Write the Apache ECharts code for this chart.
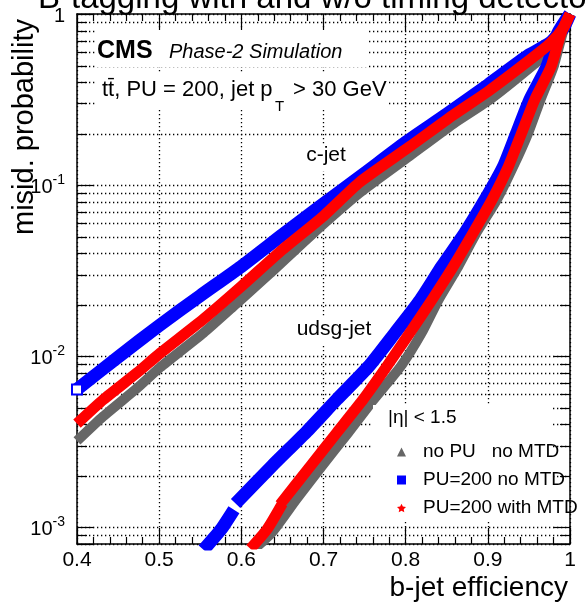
<!DOCTYPE html>
<html>
<head>
<meta charset="utf-8">
<script src="https://cdn.jsdelivr.net/npm/echarts@6/dist/echarts.min.js"></script>
<style>
html, body { margin: 0; padding: 0; background: #fff; }
#chart { width: 586px; height: 606px; }
</style>
</head>
<body>
<div id="chart"></div>
<script>
// b-tagging ROC curves: misidentification probability vs. b-jet efficiency

// c-jet, no PU / no MTD
const cjetNoPuEff   = [0.400, 0.432, 0.473, 0.501, 0.554, 0.594, 0.635, 0.684, 0.744, 0.805, 0.858, 0.900, 0.951, 0.976, 0.992, 1.000];
const cjetNoPuMisid = [0.0032, 0.00446, 0.0065, 0.0086, 0.0137, 0.0203, 0.0305, 0.0505, 0.0900, 0.148, 0.228, 0.310, 0.485, 0.620, 0.800, 1.000];

// c-jet, PU=200 no MTD
const cjetPuEff   = [0.400, 0.450, 0.500, 0.550, 0.600, 0.650, 0.700, 0.750, 0.800, 0.850, 0.900, 0.950, 0.976, 0.992, 1.000];
const cjetPuMisid = [0.0064, 0.0099, 0.0151, 0.0226, 0.0335, 0.0513, 0.0780, 0.1175, 0.178, 0.260, 0.385, 0.576, 0.680, 0.830, 1.000];

// c-jet, PU=200 with MTD
const cjetMtdEff   = [0.400, 0.432, 0.473, 0.501, 0.554, 0.600, 0.650, 0.700, 0.744, 0.805, 0.858, 0.900, 0.951, 0.976, 0.992, 1.000];
const cjetMtdMisid = [0.00404, 0.00558, 0.0080, 0.0104, 0.0165, 0.0256, 0.0420, 0.0660, 0.104, 0.168, 0.257, 0.352, 0.539, 0.674, 0.830, 1.000];

// udsg-jet, no PU / no MTD
const udsgNoPuEff   = [0.616, 0.637, 0.667, 0.698, 0.730, 0.761, 0.794, 0.8195, 0.840, 0.864, 0.886, 0.911, 0.931, 0.949, 0.964, 0.980, 0.991, 1.000];
const udsgNoPuMisid = [0.00075, 0.00093, 0.00146, 0.00228, 0.00357, 0.00558, 0.00873, 0.0137, 0.0214, 0.0335, 0.0525, 0.082, 0.1285, 0.201, 0.315, 0.493, 0.770, 1.000];

// udsg-jet, PU=200 no MTD (two pieces)
const udsgPuLowEff   = [0.554, 0.575, 0.591];
const udsgPuLowMisid = [0.00074, 0.00097, 0.00127];
const udsgPuEff   = [0.593, 0.637, 0.680, 0.716, 0.755, 0.787, 0.818, 0.844, 0.872, 0.8965, 0.919, 0.935, 0.951, 0.972, 0.985, 1.000];
const udsgPuMisid = [0.00138, 0.00228, 0.00365, 0.00558, 0.00873, 0.0137, 0.0214, 0.0335, 0.0525, 0.082, 0.1285, 0.201, 0.315, 0.493, 0.770, 1.000];

// udsg-jet, PU=200 with MTD (two pieces)
const udsgMtdLowEff   = [0.611, 0.631, 0.650];
const udsgMtdLowMisid = [0.00075, 0.00097, 0.00138];
const udsgMtdEff   = [0.647, 0.684, 0.716, 0.748, 0.777, 0.805, 0.832, 0.858, 0.882, 0.905, 0.925, 0.941, 0.957, 0.977, 0.989, 1.000];
const udsgMtdMisid = [0.00136, 0.00228, 0.00357, 0.00558, 0.00873, 0.0137, 0.0214, 0.0335, 0.0525, 0.082, 0.1285, 0.201, 0.315, 0.493, 0.770, 1.000];

const X_MIN = 0.4, X_MAX = 1.0;
const Y_MIN = 0.0008, Y_MAX = 1;

const NAME_NOPU = 'no PU   no MTD';
const NAME_PU = 'PU=200 no MTD';
const NAME_MTD = 'PU=200 with MTD';

const GRAY = '#666666', BLUE = '#0000ff', RED = '#ff0000';
const FONT = '"Liberation Sans", Arial, Helvetica, sans-serif';

// minor decade positions (2..9 x 10^n) inside the axis range
const logMinorTicks = [];
for (let d = -4; d <= -1; d++) {
  for (let k = 2; k <= 9; k++) {
    const v = +(k * Math.pow(10, d)).toPrecision(3);
    if (v > Y_MIN && v < Y_MAX) logMinorTicks.push(v);
  }
}

function pairs(xs, ys) { return xs.map((x, i) => [x, ys[i]]); }

function curve(name, xs, ys, color, width, z, startMarker) {
  const data = pairs(xs, ys);
  if (startMarker) {
    data[0] = { value: data[0], symbol: startMarker, symbolSize: 10 };
  }
  return {
    type: 'line', name: name, data: data,
    showSymbol: !!startMarker, symbol: 'none', smooth: 0.2, clip: true,
    z: z, silent: true,
    itemStyle: { color: color, borderColor: color, borderWidth: 1.5 },
    lineStyle: { color: color, width: width, cap: 'butt', join: 'round' }
  };
}

const starIcon = 'path://M0,-10 L2.9,-4 L9.5,-3.1 L4.7,1.5 L5.9,8.1 L0,5 L-5.9,8.1 L-4.7,1.5 L-9.5,-3.1 L-2.9,-4 Z';

const GRID_DASH = [1.3, 2.7];
const dotted = { color: '#000', width: 1.3, type: GRID_DASH };

function xAxisCfg(pos, labels) {
  return {
    type: 'value', position: pos, min: X_MIN, max: X_MAX, interval: 0.1,
    axisLine: { show: true, onZero: false, lineStyle: { color: '#000', width: 1.5 } },
    axisTick: { show: true, inside: true, length: 16, lineStyle: { color: '#000', width: 1.2 } },
    minorTick: { show: true, splitNumber: 5, length: 7, lineStyle: { color: '#000', width: 1.2 } },
    axisLabel: labels ? { show: true, fontSize: 21, color: '#000', fontFamily: FONT, margin: 6 } : { show: false },
    splitLine: { show: labels, lineStyle: dotted },
    minorSplitLine: { show: false }
  };
}

function yAxisCfg(pos, labels) {
  return {
    type: 'log', logBase: 10, position: pos, min: Y_MIN, max: Y_MAX,
    axisLine: { show: true, onZero: false, lineStyle: { color: '#000', width: 1.5 } },
    axisTick: { show: true, inside: true, length: 17, lineStyle: { color: '#000', width: 1.2 } },
    axisLabel: labels ? {
      show: true, margin: 12, color: '#000', fontFamily: FONT,
      formatter: function (v) {
        const e = Math.log10(v);
        const r = Math.round(e);
        if (Math.abs(e - r) > 1e-6) return '';
        if (r === 0) return '{b|1}';
        return '{b|10}{s|' + r + '}';
      },
      rich: {
        b: { fontSize: 20, lineHeight: 24, verticalAlign: 'bottom', fontFamily: FONT, color: '#000' },
        s: { fontSize: 14, lineHeight: 14, verticalAlign: 'top', fontFamily: FONT, color: '#000' }
      }
    } : { show: false },
    splitLine: { show: labels, lineStyle: dotted }
  };
}

const chart = echarts.init(document.getElementById('chart'), null, { renderer: 'canvas' });

chart.setOption({
  animation: false,
  backgroundColor: '#fff',
  grid: { left: 77, right: 16, top: 14, bottom: 62, containLabel: false },
  xAxis: [xAxisCfg('bottom', true), xAxisCfg('top', false)],
  yAxis: [yAxisCfg('left', true), yAxisCfg('right', false)],
  legend: {
    orient: 'vertical', left: 392, top: 433, itemWidth: 9, itemHeight: 9, itemGap: 0,
    z: 10, selectedMode: false,
    textStyle: { fontSize: 19, lineHeight: 28, color: '#000', fontFamily: FONT, padding: [0, 0, 0, 12] },
    data: [
      { name: NAME_NOPU, icon: 'triangle', itemStyle: { color: GRAY, borderWidth: 0 } },
      { name: NAME_PU, icon: 'rect', itemStyle: { color: BLUE, borderWidth: 0 } },
      { name: NAME_MTD, icon: starIcon, itemStyle: { color: RED, borderWidth: 0 } }
    ]
  },
  graphic: [
    // boxes behind the text labels
    { type: 'rect', z: 5, shape: { x: 95, y: 30, width: 272, height: 37 }, style: { fill: '#fff' } },
    { type: 'rect', z: 5, shape: { x: 95, y: 72, width: 292, height: 38 }, style: { fill: '#fff' } },
    { type: 'rect', z: 5, shape: { x: 300, y: 144, width: 52, height: 27 }, style: { fill: '#fff' } },
    { type: 'rect', z: 5, shape: { x: 291, y: 318, width: 86, height: 26 }, style: { fill: '#fff' } },
    { type: 'rect', z: 5, shape: { x: 373, y: 405, width: 179, height: 117 }, style: { fill: '#fff' } },

    { type: 'text', z: 6, x: 38, y: -1, style: { text: 'B-tagging with and w/o timing detector', font: '33px ' + FONT, fill: '#000', align: 'left', verticalAlign: 'middle' } },
    { type: 'text', z: 6, x: 25, y: 127, rotation: Math.PI / 2, style: { text: 'misid. probability', font: '29px ' + FONT, fill: '#000', align: 'center', verticalAlign: 'middle' } },
    { type: 'text', z: 6, x: 568, y: 588, style: { text: 'b-jet efficiency', font: '28px ' + FONT, fill: '#000', align: 'right', verticalAlign: 'middle' } },
    { type: 'text', z: 6, x: 97, y: 51, style: { text: 'CMS', font: 'bold 25px ' + FONT, fill: '#000', align: 'left', verticalAlign: 'middle' } },
    { type: 'text', z: 6, x: 169, y: 52, style: { text: 'Phase-2 Simulation', font: 'italic 20px ' + FONT, fill: '#000', align: 'left', verticalAlign: 'middle' } },
    { type: 'text', z: 6, x: 102, y: 90, style: { text: 'tt\u0304, PU = 200, jet p', font: '22px ' + FONT, fill: '#000', align: 'left', verticalAlign: 'middle' } },
    { type: 'text', z: 6, x: 275, y: 107, style: { text: 'T', font: '15px ' + FONT, fill: '#000', align: 'left', verticalAlign: 'middle' } },
    { type: 'text', z: 6, x: 293, y: 90, style: { text: '> 30 GeV', font: '22px ' + FONT, fill: '#000', align: 'left', verticalAlign: 'middle' } },
    { type: 'text', z: 6, x: 326, y: 155, style: { text: 'c-jet', font: '21px ' + FONT, fill: '#000', align: 'center', verticalAlign: 'middle' } },
    { type: 'text', z: 6, x: 334, y: 329, style: { text: 'udsg-jet', font: '21px ' + FONT, fill: '#000', align: 'center', verticalAlign: 'middle' } },
    { type: 'text', z: 6, x: 388, y: 418, style: { text: '|\u03b7| < 1.5', font: '19px ' + FONT, fill: '#000', align: 'left', verticalAlign: 'middle' } }
  ],
  series: [
    {
      type: 'custom', name: 'logMinorGrid', z: 1, silent: true,
      xAxisIndex: 0, yAxisIndex: 0,
      data: logMinorTicks.map(v => [X_MIN, v]),
      encode: { x: 0, y: 1 },
      renderItem: function (params, api) {
        const v = api.value(1);
        const a = api.coord([X_MIN, v]);
        const b = api.coord([X_MAX, v]);
        const y = Math.round(a[1]) + 0.5;
        return {
          type: 'group',
          children: [
            { type: 'line', shape: { x1: a[0], y1: y, x2: b[0], y2: y }, style: { stroke: '#000', lineWidth: 1.3, lineDash: GRID_DASH } },
            { type: 'line', shape: { x1: a[0], y1: y, x2: a[0] + 10, y2: y }, style: { stroke: '#000', lineWidth: 1.2 } },
            { type: 'line', shape: { x1: b[0] - 10, y1: y, x2: b[0], y2: y }, style: { stroke: '#000', lineWidth: 1.2 } }
          ]
        };
      }
    },
    curve(NAME_NOPU, cjetNoPuEff, cjetNoPuMisid, GRAY, 10, 2),
    curve(NAME_NOPU, udsgNoPuEff, udsgNoPuMisid, GRAY, 10, 2),
    curve(NAME_PU, cjetPuEff, cjetPuMisid, BLUE, 13, 3, 'emptyRect'),
    curve(NAME_PU, udsgPuLowEff, udsgPuLowMisid, BLUE, 13, 3),
    curve(NAME_PU, udsgPuEff, udsgPuMisid, BLUE, 13, 3),
    curve(NAME_MTD, cjetMtdEff, cjetMtdMisid, RED, 11, 4),
    curve(NAME_MTD, udsgMtdLowEff, udsgMtdLowMisid, RED, 11, 4),
    curve(NAME_MTD, udsgMtdEff, udsgMtdMisid, RED, 11, 4)
  ]
});
</script>
</body>
</html>
